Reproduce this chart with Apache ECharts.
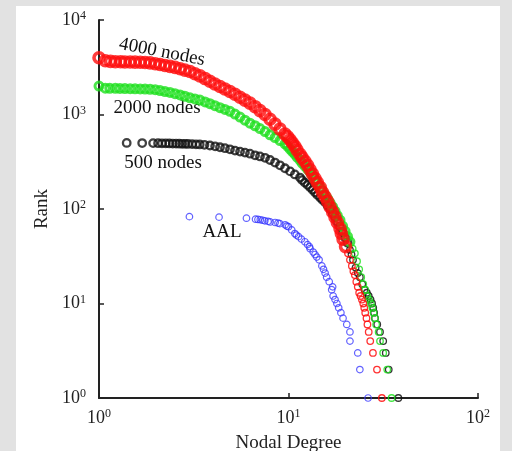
<!DOCTYPE html>
<html>
<head>
<meta charset="utf-8">
<script src="https://cdn.jsdelivr.net/npm/echarts@6/dist/echarts.min.js"></script>
<style>
html,body{margin:0;padding:0;background:#e2e2e2;}
#chart{width:512px;height:451px;}
</style>
</head>
<body>
<div id="chart"></div>
<script>
// [nodal degree, rank]
const nodes4000 = [[1.0,3980],[1.08,3700],[1.15,3650],[1.22,3620],[1.30,3610],[1.37,3600],[1.46,3590],[1.55,3580],[1.65,3570],[1.75,3550],[1.86,3520],[1.98,3450],[2.1,3380],[2.23,3300],[2.37,3230],[2.52,3150],[2.68,3050],[2.84,2950],[3.02,2850],[3.21,2700],[3.41,2560],[3.63,2400],[3.85,2250],[4.09,2100],[4.35,1980],[4.62,1860],[4.91,1750],[5.22,1640],[5.55,1520],[5.89,1420],[6.26,1320],[6.66,1210],[7.07,1100],[7.52,1000],[7.99,890],[8.49,790],[9.02,700],[9.58,620],[9.9,580],[10.2,540],[10.5,500],[10.8,460],[11.1,420],[11.5,380],[11.8,350],[12.2,320],[12.6,290],[13.0,260],[13.4,235],[13.8,210],[14.2,190],[14.7,170],[15.1,150],[15.6,135],[16.1,120],[16.6,105],[17.1,93],[17.6,82],[18.1,72],[18.7,62],[19.0,55],[19.4,48],[20.0,40],[20.6,34],[21.1,29],[21.6,25],[22.0,22],[22.4,20],[22.8,17],[23.2,15],[23.6,13],[24.0,12],[24.4,11],[24.8,10],[25.1,9],[25.4,8],[25.8,7],[26.1,6],[26.5,5],[27.0,4],[27.9,3],[29.3,2],[31.1,1]];
const nodes2000 = [[1.0,2000],[1.08,1900],[1.14,1895],[1.22,1890],[1.29,1885],[1.37,1880],[1.46,1875],[1.55,1870],[1.65,1865],[1.75,1860],[1.86,1850],[1.98,1830],[2.1,1790],[2.23,1750],[2.37,1710],[2.52,1660],[2.68,1610],[2.84,1560],[3.02,1500],[3.21,1460],[3.41,1420],[3.63,1360],[3.85,1300],[4.09,1240],[4.35,1180],[4.62,1130],[4.91,1080],[5.22,1010],[5.55,940],[5.89,870],[6.26,810],[6.66,760],[7.07,710],[7.52,660],[7.99,610],[8.49,570],[9.02,530],[9.58,490],[9.9,460],[10.2,430],[10.5,405],[10.8,380],[11.1,355],[11.5,330],[11.8,305],[12.2,285],[12.6,265],[13.0,245],[13.4,225],[13.8,205],[14.2,188],[14.7,170],[15.1,155],[15.6,140],[16.1,128],[16.6,115],[17.1,105],[17.6,95],[18.1,85],[18.7,76],[19.3,66],[19.9,58],[20.5,51],[21.1,45],[21.8,38],[22.4,34],[23.0,28],[23.6,23],[24.2,19],[24.8,16],[25.4,14],[26.0,12],[26.6,11],[27.2,10],[27.7,9],[28.1,8],[28.6,7],[29.0,6],[29.9,5],[30.4,4],[31.6,3],[33.2,2],[35.0,1]];
const nodes500 = [[1.40,500],[1.69,499],[1.93,498],[2.05,497],[2.15,496],[2.25,495],[2.35,494],[2.45,493],[2.55,492],[2.65,491],[2.75,490],[2.85,489],[2.95,488],[3.1,486],[3.25,484],[3.4,482],[3.6,478],[3.85,470],[4.1,460],[4.35,450],[4.62,440],[4.91,428],[5.22,415],[5.55,405],[5.89,395],[6.26,385],[6.66,370],[7.07,360],[7.52,348],[7.99,330],[8.49,310],[9.02,290],[9.58,270],[10.2,250],[10.8,232],[11.5,215],[11.8,202],[12.2,190],[12.6,180],[13.0,170],[13.4,160],[13.8,150],[14.2,141],[14.7,132],[15.1,125],[15.6,118],[16.1,108],[16.6,100],[17.1,90],[17.6,82],[18.1,73],[18.7,65],[19.3,57],[19.9,50],[20.5,44],[21.1,37],[21.5,33],[21.9,29],[22.6,24],[23.2,21],[23.8,19],[24.5,16],[25.2,14],[25.9,13],[26.5,12],[27.1,11],[27.6,10],[28.0,9],[28.3,8],[28.6,7],[29.4,6],[30.4,5],[31.6,4],[32.6,3],[33.8,2],[38.0,1]];
const aal = [[26.3,1],[23.8,2],[23.2,3],[21.1,4],[21.1,5],[20.3,6],[19.4,7],[18.9,8],[18.4,9],[18.0,10],[17.6,11],[17.2,12],[16.9,14],[17.1,15],[16.4,17],[15.9,19],[15.6,21],[15.3,23],[15.0,25],[14.5,29],[14.1,31],[13.8,33],[13.5,35],[13.0,38],[12.9,40],[12.6,42],[12.2,45],[11.7,48],[11.3,51],[11.0,53],[10.8,55],[10.4,60],[10.0,65],[9.8,66],[9.6,68],[9.0,70],[8.8,71],[8.5,72],[8.0,73],[7.8,74],[7.5,75],[7.3,76],[7.1,77],[6.9,77.5],[6.7,78],[6.0,80],[4.3,82],[3.0,83]];

const xTicks = [1, 10, 100];
const yTicks = [1, 10, 100, 1000, 10000];
const xName = 'Nodal Degree';
const yName = 'Rank';
const labels = ['4000 nodes', '2000 nodes', '500 nodes', 'AAL'];

const FONT = "'Liberation Serif','Times New Roman',serif";
const TXT = '#111111';

function powLabel(v) {
  const e = Math.round(Math.log10(v));
  return '{b|10}{s|' + e + '}';
}
const rich = {
  b: {fontFamily: FONT, fontSize: 18, color: '#222', lineHeight: 20},
  s: {fontFamily: FONT, fontSize: 12, color: '#222', verticalAlign: 'top', lineHeight: 20, padding: [0,0,9,0]}
};

// dense part (many overlapping circles) drawn heavier than the sparse tail
const DENSE_MIN_RANK = 40;
function scatterPair(name, data, color, sizeDense, bwDense, z) {
  const base = {type: 'scatter', name: name, symbol: 'circle', clip: false, silent: true, z: z};
  return [
    Object.assign({}, base, {
      data: data.filter(d => d[1] >= DENSE_MIN_RANK), symbolSize: sizeDense,
      itemStyle: {color: 'rgba(0,0,0,0)', borderColor: color, borderWidth: bwDense}
    }),
    Object.assign({}, base, {
      data: data.filter(d => d[1] < DENSE_MIN_RANK), symbolSize: 6.5,
      itemStyle: {color: 'rgba(0,0,0,0)', borderColor: color, borderWidth: 1.3, opacity: 0.85}
    })
  ];
}

const chart = echarts.init(document.getElementById('chart'), null, {renderer: 'canvas'});
chart.setOption({
  animation: false,
  backgroundColor: '#e2e2e2',
  graphic: [
    {type: 'rect', z: -10, shape: {x: 16, y: 6, width: 484, height: 445}, style: {fill: '#ffffff'}},
    {type: 'text', x: 162, y: 52, rotation: -0.19, style: {text: labels[0], font: '19px ' + FONT, fill: TXT, align: 'center', verticalAlign: 'middle'}},
    {type: 'text', x: 157, y: 108, style: {text: labels[1], font: '19px ' + FONT, fill: TXT, align: 'center', verticalAlign: 'middle'}},
    {type: 'text', x: 163, y: 163, style: {text: labels[2], font: '19px ' + FONT, fill: TXT, align: 'center', verticalAlign: 'middle'}},
    {type: 'text', x: 222, y: 232, style: {text: labels[3], font: '19px ' + FONT, fill: TXT, align: 'center', verticalAlign: 'middle'}}
  ],
  grid: {left: 99, top: 20, right: 34, bottom: 53, containLabel: false, outerBoundsMode: 'none'},
  xAxis: {
    type: 'log', logBase: 10, min: xTicks[0], max: xTicks[xTicks.length-1],
    name: xName, nameLocation: 'middle', nameGap: 33,
    nameTextStyle: {fontFamily: FONT, fontSize: 19, color: '#222'},
    axisLine: {show: true, lineStyle: {color: '#222', width: 2}},
    axisTick: {show: true, inside: true, length: 5, lineStyle: {color: '#222', width: 1.5}},
    minorTick: {show: false},
    splitLine: {show: false},
    axisLabel: {formatter: powLabel, rich: rich, margin: 10}
  },
  yAxis: {
    type: 'log', logBase: 10, min: yTicks[0], max: yTicks[yTicks.length-1],
    name: yName, nameLocation: 'middle', nameGap: 46, nameRotate: 90,
    nameTextStyle: {fontFamily: FONT, fontSize: 19, color: '#222'},
    axisLine: {show: true, lineStyle: {color: '#222', width: 2}},
    axisTick: {show: true, inside: true, length: 5, lineStyle: {color: '#222', width: 1.5}},
    splitLine: {show: false},
    axisLabel: {formatter: powLabel, rich: rich, margin: 13}
  },
  series: [].concat(
    scatterPair(labels[2], nodes500, '#111111', 7.5, 2.3, 2),
    scatterPair(labels[1], nodes2000, '#1ee01e', 8, 3, 3),
    scatterPair(labels[0], nodes4000, '#ff0d0d', 10, 3.6, 4),
    [{type: 'scatter', name: labels[3], data: aal, symbol: 'circle', symbolSize: 6.5, clip: false, silent: true, z: 5,
      itemStyle: {color: 'rgba(0,0,0,0)', borderColor: '#3a3aff', borderWidth: 1.2}}]
  )
});
</script>
</body>
</html>
